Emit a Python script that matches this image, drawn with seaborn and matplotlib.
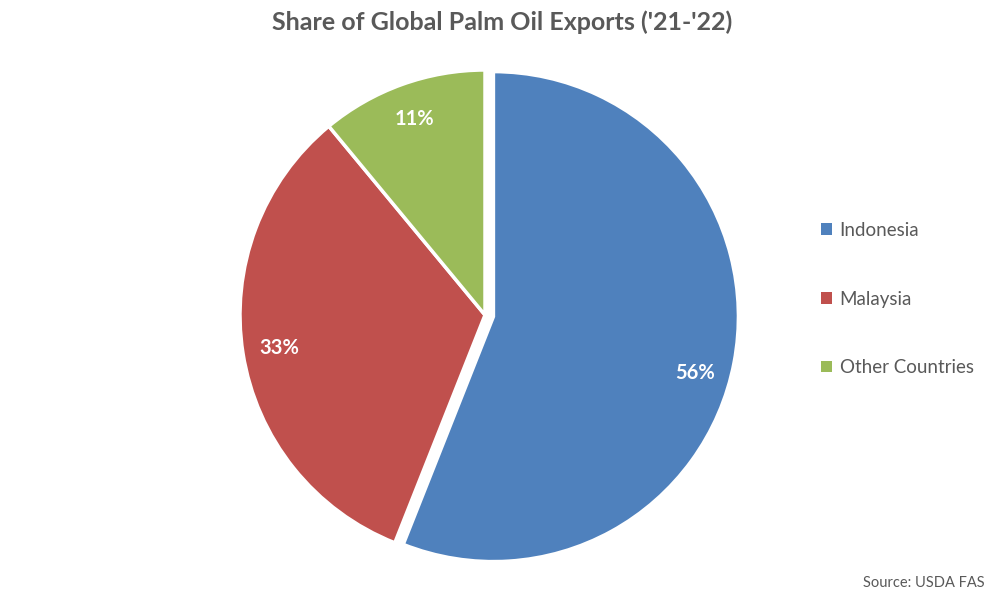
import matplotlib.pyplot as plt
import seaborn as sns
from matplotlib.patches import Patch

# data
countries = ['Indonesia', 'Malaysia', 'Other Countries']
shares = [56, 33, 11]
colors = ['#4F81BD', '#C0504D', '#9BBB59']
explode = [0.035, 0, 0]

sns.set_theme(style='white')
plt.rcParams['font.family'] = ['Lato', 'DejaVu Sans']

fig = plt.figure(figsize=(10.05, 6.01), dpi=100)
# axes placed so the pie sits at about (485, 315) px with radius 245 px
r_px = 245
lim = 1.2
side = 2 * lim * r_px
cx, cy = 485, 601 - 315
ax = fig.add_axes([(cx - side / 2) / 1005, (cy - side / 2) / 601, side / 1005, side / 601])

wedges, texts, autotexts = ax.pie(
    shares, colors=colors, explode=explode, startangle=90, counterclock=False,
    autopct='%.0f%%', pctdistance=0.85,
    wedgeprops=dict(linewidth=2.5, edgecolor='white'),
    textprops=dict(color='white', fontsize=14.5, fontweight='bold'),
)
# Excel puts the big label a bit lower than the slice middle
x0, y0 = autotexts[0].get_position()
autotexts[0].set_position((x0 - 0.01, y0 - 0.07))

ax.set_xlim(-lim, lim)
ax.set_ylim(-lim, lim)
ax.set_aspect('equal')
ax.axis('off')
for w in wedges:
    w.set_clip_on(False)

fig.text(0.5, 1 - 22 / 601, "Share of Global Palm Oil Exports ('21-'22)",
         ha='center', va='center', fontsize=18, fontweight='bold', color='#595959')

handles = [Patch(facecolor=c, edgecolor='none', label=n) for c, n in zip(colors, countries)]
fig.legend(handles=handles, loc='center left', bbox_to_anchor=(804 / 1005, 1 - 299 / 601),
           frameon=False, fontsize=13.5, labelcolor='#595959', handlelength=0.6,
           handleheight=0.6, handletextpad=0.4, labelspacing=2.75)

fig.text(985 / 1005, 1 - 583 / 601, 'Source: USDA FAS', ha='right', va='center',
         fontsize=10.5, color='#595959')

fig.savefig('out.png', dpi=100)
